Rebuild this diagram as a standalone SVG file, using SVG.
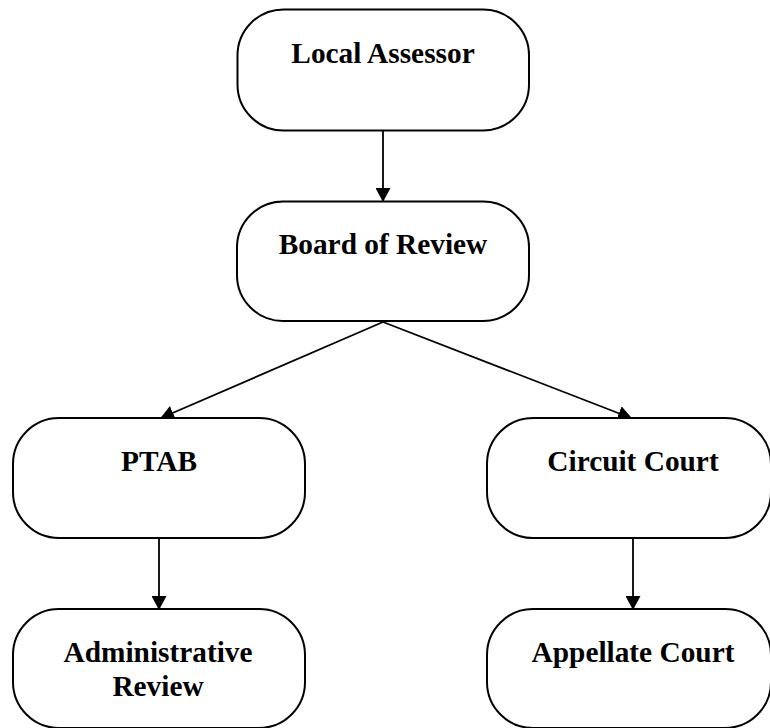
<svg xmlns="http://www.w3.org/2000/svg" width="770" height="728" viewBox="0 0 770 728">
<style>
.box{fill:#fff;stroke:#000;stroke-width:2}
.lbl{font-family:"Liberation Serif","Times New Roman",serif;font-weight:bold;font-size:29.33px;fill:#000;text-anchor:middle}
.con{stroke:#000;stroke-width:1.8;fill:none}
</style>
<defs>
<marker id="arr" viewBox="0 0 14 15" refX="13" refY="7.5" markerWidth="14" markerHeight="15" markerUnits="userSpaceOnUse" orient="auto">
<path d="M0,0 L14,7.5 L0,15 Z" fill="#000"/>
</marker>
</defs>
<rect width="770" height="728" fill="#fff"/>
<g id="connectors">
<line class="con" x1="383" y1="131" x2="383" y2="201" marker-end="url(#arr)"/>
<line class="con" x1="383" y1="322" x2="161" y2="418" marker-end="url(#arr)"/>
<line class="con" x1="383" y1="322" x2="631" y2="418" marker-end="url(#arr)"/>
<line class="con" x1="159" y1="538" x2="159" y2="609" marker-end="url(#arr)"/>
<line class="con" x1="633" y1="538" x2="633" y2="609" marker-end="url(#arr)"/>
</g>
<g id="local-assessor">
<rect class="box" x="237.5" y="9.5" width="291.5" height="121" rx="46" ry="46"/>
<text class="lbl" x="383" y="63">Local Assessor</text>
</g>
<g id="board-of-review">
<rect class="box" x="237" y="201.5" width="292" height="119.5" rx="46" ry="46"/>
<text class="lbl" x="383" y="254">Board of Review</text>
</g>
<g id="ptab">
<rect class="box" x="13" y="418" width="292" height="120" rx="46" ry="46"/>
<text class="lbl" x="159" y="471">PTAB</text>
</g>
<g id="circuit-court">
<rect class="box" x="487" y="418" width="284" height="120" rx="46" ry="46"/>
<text class="lbl" x="633" y="471">Circuit Court</text>
</g>
<g id="administrative-review">
<rect class="box" x="13" y="609" width="292" height="119" rx="46" ry="46"/>
<text class="lbl" x="158" y="662">Administrative</text>
<text class="lbl" x="158" y="696">Review</text>
</g>
<g id="appellate-court">
<rect class="box" x="487" y="609" width="284" height="119" rx="46" ry="46"/>
<text class="lbl" x="633" y="662">Appellate Court</text>
</g>
</svg>
